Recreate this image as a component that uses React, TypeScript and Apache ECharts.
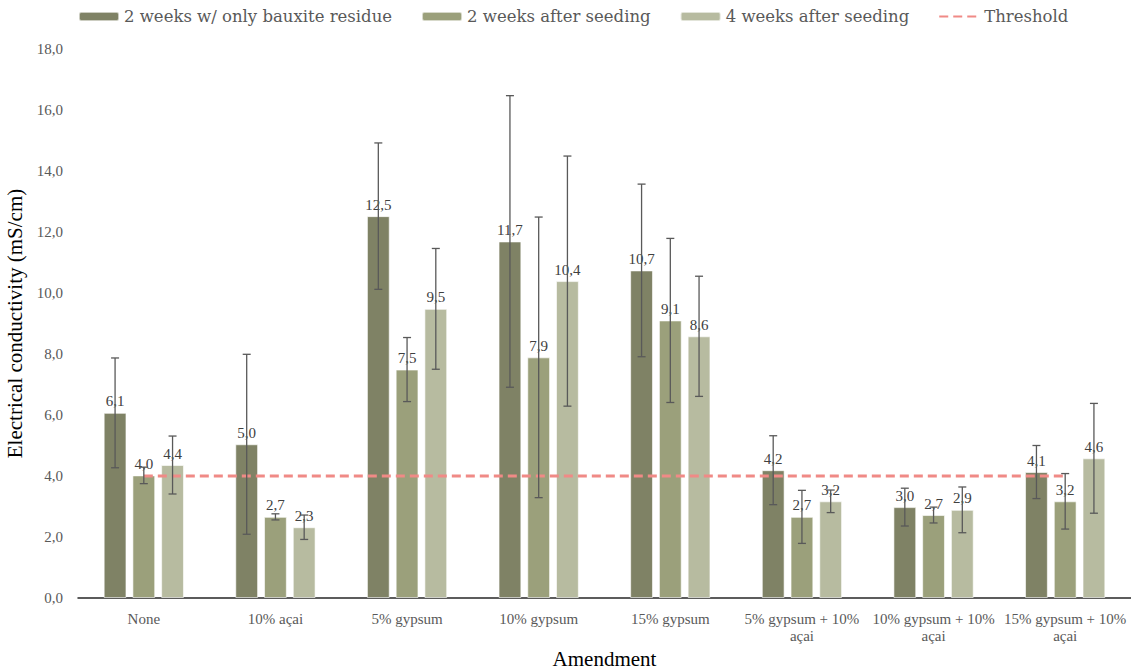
import React, { useEffect, useRef } from "react";
import * as echarts from "echarts";

const categories = [
  "None",
  "10% açai",
  "5% gypsum",
  "10% gypsum",
  "15% gypsum",
  "5% gypsum + 10%\naçai",
  "10% gypsum + 10%\naçai",
  "15% gypsum + 10%\naçai",
];

const seriesNames = [
  "2 weeks w/ only bauxite residue",
  "2 weeks after seeding",
  "4 weeks after seeding",
];

const onlyResidue = [6.07, 5.04, 12.52, 11.69, 10.74, 4.19, 2.98, 4.13];
const twoWeeksSeeding = [4.02, 2.66, 7.49, 7.89, 9.1, 2.66, 2.72, 3.17];
const fourWeeksSeeding = [4.36, 2.32, 9.48, 10.39, 8.58, 3.17, 2.89, 4.58];

const onlyResidueErr = [1.8, 2.95, 2.4, 4.78, 2.83, 1.13, 0.62, 0.87];
const twoWeeksSeedingErr = [0.27, 0.1, 1.05, 4.6, 2.69, 0.87, 0.26, 0.91];
const fourWeeksSeedingErr = [0.95, 0.4, 1.98, 4.1, 1.97, 0.37, 0.75, 1.8];

const thresholdValue = 4.0;
const thresholdName = "Threshold";

const colors = ["#7F8265", "#9BA07B", "#B7BBA0"];

const yTicks = { min: 0, max: 18, interval: 2 };

const CAT_GAP = 0.39;
const BAR_GAP = 0.26;

const fmt = (v: number) => v.toFixed(1).replace(".", ",");

export default function App() {
  const ref = useRef<HTMLDivElement>(null);

  useEffect(() => {
    if (!ref.current) return;
    const chart = echarts.init(ref.current, null, { renderer: "svg" });
    const values = [onlyResidue, twoWeeksSeeding, fourWeeksSeeding];
    const errs = [onlyResidueErr, twoWeeksSeedingErr, fourWeeksSeedingErr];
    const font = "Liberation Serif";
    const legendFont = "DejaVu Serif";

    const barSeries = values.map((vals, k) => ({
      name: seriesNames[k],
      type: "bar",
      data: vals,
      barGap: BAR_GAP * 100 + "%",
      barCategoryGap: CAT_GAP * 100 + "%",
      itemStyle: { color: colors[k], borderColor: "rgba(255,255,255,0.6)", borderWidth: 1 },
      label: {
        show: true,
        position: "top",
        distance: 4,
        fontFamily: font,
        fontSize: 15,
        color: "#404040",
        formatter: (p: any) => fmt(p.value),
      },
      z: 2,
    }));

    const errSeries = values.map((vals, k) => ({
      name: seriesNames[k] + " err",
      type: "custom",
      z: 5,
      silent: true,
      data: vals.map((v, i) => [i, v - errs[k][i], v + errs[k][i]]),
      renderItem: (params: any, api: any) => {
        const x = api.value(0);
        const lo = api.value(1);
        const hi = api.value(2);
        const band = api.size([1, 0])[0];
        const bw = (band * (1 - CAT_GAP)) / (3 + 2 * BAR_GAP);
        const off = (k - 1) * bw * (1 + BAR_GAP);
        const pHi = api.coord([x, hi]);
        const pLo = api.coord([x, lo]);
        const cx = pHi[0] + off;
        const cap = 4;
        const style = { stroke: "#595959", lineWidth: 1.3 };
        return {
          type: "group",
          children: [
            { type: "line", shape: { x1: cx, y1: pHi[1], x2: cx, y2: pLo[1] }, style },
            { type: "line", shape: { x1: cx - cap, y1: pHi[1], x2: cx + cap, y2: pHi[1] }, style },
            { type: "line", shape: { x1: cx - cap, y1: pLo[1], x2: cx + cap, y2: pLo[1] }, style },
          ],
        };
      },
    }));

    chart.setOption({
      animation: false,
      textStyle: { fontFamily: font },
      legend: {
        data: [
          ...seriesNames,
          { name: thresholdName, itemStyle: { opacity: 0 } },
        ],
        top: 3,
        left: 73,
        itemWidth: 40,
        itemHeight: 9,
        itemGap: 29,
        textStyle: { fontFamily: legendFont, fontSize: 16.5, color: "#595959" },
      },
      grid: { left: 78, right: 0, top: 49, bottom: 73, containLabel: false, outerBoundsMode: "none" },
      xAxis: {
        type: "category",
        data: categories,
        name: "Amendment",
        nameLocation: "middle",
        nameGap: 47,
        nameTextStyle: { fontFamily: font, fontSize: 21, color: "#000" },
        axisLine: { lineStyle: { color: "#262626", width: 1.5 } },
        axisTick: { show: false },
        axisLabel: {
          interval: 0,
          fontFamily: font,
          fontSize: 15,
          color: "#595959",
          margin: 12,
          lineHeight: 17,
        },
      },
      yAxis: {
        type: "value",
        min: yTicks.min,
        max: yTicks.max,
        interval: yTicks.interval,
        name: "Electrical conductivity (mS/cm)",
        nameLocation: "middle",
        nameGap: 44,
        nameTextStyle: { fontFamily: font, fontSize: 21, color: "#000" },
        axisLine: { show: false },
        axisTick: { show: false },
        splitLine: { show: false },
        axisLabel: {
          fontFamily: font,
          fontSize: 15,
          color: "#595959",
          margin: 15,
          formatter: (v: number) => fmt(v),
        },
      },
      series: [
        ...barSeries,
        ...errSeries,
        {
          name: thresholdName,
          type: "line",
          data: categories.map(() => thresholdValue),
          symbol: "none",
          z: 4,
          lineStyle: { color: "#F08A86", width: 3, type: [9, 5] },
          itemStyle: { color: "#F08A86" },
        },
      ],
    });
    return () => chart.dispose();
  }, []);

  return (
    <div
      ref={ref}
      style={{ position: "fixed", left: 0, top: 0, width: 1131, height: 671, background: "#fff" }}
    />
  );
}
